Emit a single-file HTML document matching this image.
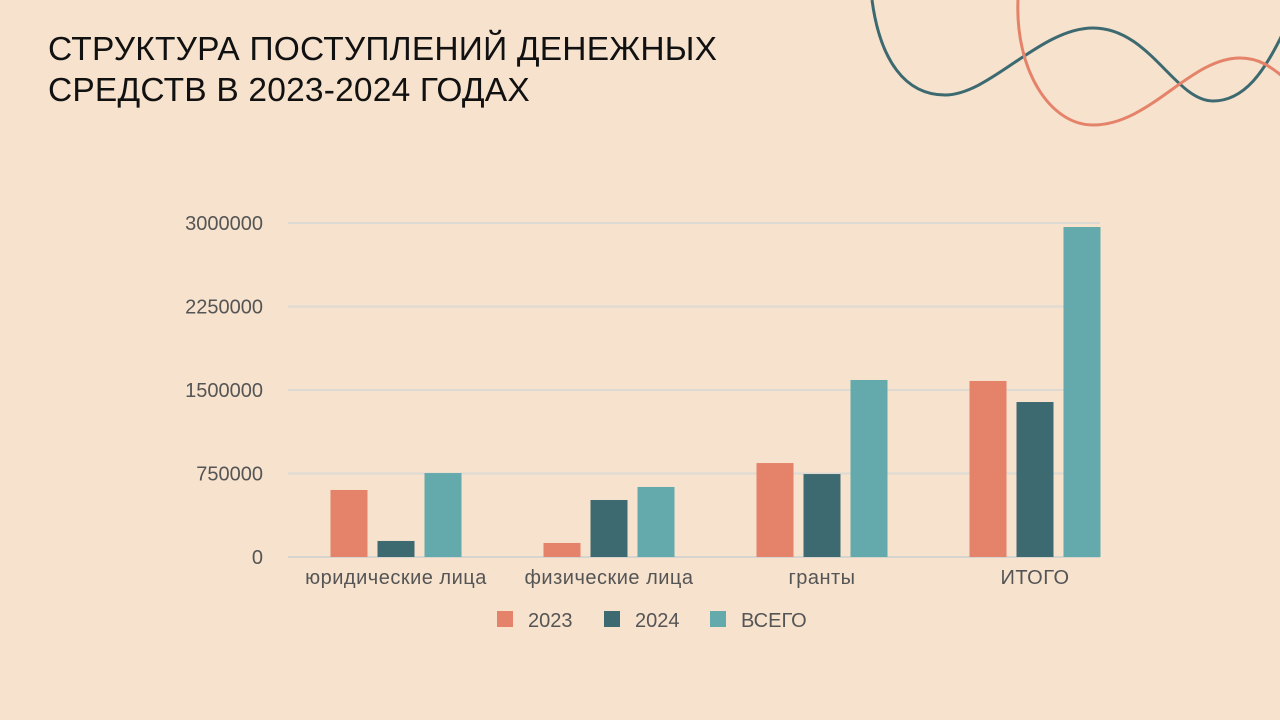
<!DOCTYPE html>
<html><head><meta charset="utf-8"><style>
body{margin:0;width:1280px;height:720px;background:#F6E2CD;overflow:hidden;font-family:"Liberation Sans","DejaVu Sans",sans-serif;}
#title{position:absolute;left:48px;top:29px;font-size:33.5px;line-height:41px;color:#111;letter-spacing:0.2px;}
svg{position:absolute;left:0;top:0;}
</style></head><body>
<div id="title">СТРУКТУРА ПОСТУПЛЕНИЙ ДЕНЕЖНЫХ<br>СРЕДСТВ В 2023-2024 ГОДАХ</div>
<svg width="1280" height="720" id="chart">
<path d="M872,0 C880,60 905,95 945,95 C990,95 1040,28 1093,28 C1150,28 1175,101 1213,101 C1245,101 1265,70 1282,35" fill="none" stroke="#3D6970" stroke-width="3"/>
<path d="M1018,0 C1015,70 1050,125 1093,125 C1150,125 1190,58 1240,58 C1260,58 1272,68 1282,76" fill="none" stroke="#E5836A" stroke-width="3"/>
</svg>
<script>
const categories=["юридические лица","физические лица","гранты","ИТОГО"];
const s2023=[602000,126000,844000,1581000];
const s2024=[144000,512000,745000,1392000];
const sAll=[754000,629000,1590000,2964000];
const ticks=[0,750000,1500000,2250000,3000000];
const seriesNames=["2023","2024","ВСЕГО"];
const colors=["#E5836A","#3D6970","#64A9AB"];
const svg=document.getElementById('chart');const NS='http://www.w3.org/2000/svg';
const x0=288,x1=1100,y0=557,y1=223,maxV=3000000;
const y=v=>y0-(v/maxV)*(y0-y1);
const gw=213;
const xc=i=>396+gw*i;
function mk(t,a){const e=document.createElementNS(NS,t);for(const k in a)e.setAttribute(k,a[k]);svg.appendChild(e);return e;}
ticks.forEach(t=>{
 if(t>0){const l=mk('line',{x1:x0,x2:x1,y1:y(t),y2:y(t),stroke:'#DCDAD3','stroke-width':2});
 
 }
 const tx=mk('text',{x:263,y:y(t)+7,'text-anchor':'end','font-size':20,fill:'#555'});tx.textContent=t;
 
 
});
const base=mk('line',{x1:x0,x2:x1,y1:y0,y2:y0,stroke:'#D6D4CE','stroke-width':2});


const series=[s2023,s2024,sAll];const bw=37,step=47;
categories.forEach((c,i)=>{
 series.forEach((s,j)=>{
  const bx=xc(i)+(j-1)*step-bw/2;
  const r=mk('rect',{x:bx,y:y(s[i]),width:bw,height:y0-y(s[i]),fill:colors[j]});
  
  
 });
 const t=mk('text',{x:xc(i),y:584,'text-anchor':'middle','font-size':20,fill:'#555','letter-spacing':0.5});t.textContent=c;
 
 
});
const lx=[497,604,710];
seriesNames.forEach((n,j)=>{
 const r=mk('rect',{x:lx[j],y:611,width:16,height:16,fill:colors[j]});
 
 
 const t=mk('text',{x:lx[j]+31,y:627,'font-size':20,fill:'#555'});t.textContent=n;
 
 
});
</script>
</body></html>
